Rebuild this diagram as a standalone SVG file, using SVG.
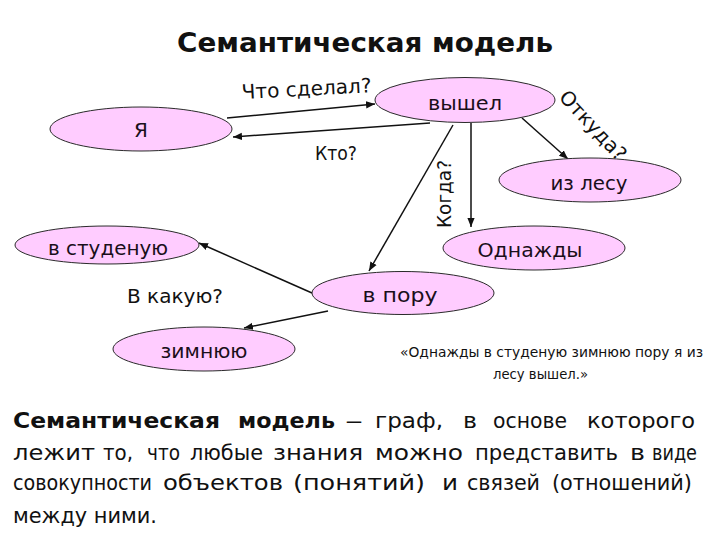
<svg xmlns="http://www.w3.org/2000/svg" width="720" height="540" viewBox="0 0 720 540">
<style>
  .node ellipse { fill: #FFCCFF; stroke: #2a2a2a; stroke-width: 1; }
  .node text { font-family: "DejaVu Sans", "Liberation Sans", sans-serif; font-size: 20px; fill: #1a0f1a; text-anchor: middle; }
  .lbl { font-family: "DejaVu Sans", "Liberation Sans", sans-serif; font-size: 20px; fill: #111; }
  .conn line { stroke: #111; stroke-width: 1.5; marker-end: url(#arr); }
  .para text { font-family: "DejaVu Sans Condensed", "DejaVu Sans", "Liberation Sans", sans-serif; font-size: 22px; fill: #111; }
  .para text.b { font-weight: bold; }
  .quote { font-family: "DejaVu Sans", "Liberation Sans", sans-serif; font-size: 14.5px; fill: #111; }
</style>
<defs>
  <marker id="arr" viewBox="0 0 10 10" refX="10" refY="5" markerWidth="6" markerHeight="6" orient="auto" markerUnits="strokeWidth">
    <path d="M0,1 L10,5 L0,9 Z" fill="#111"/>
  </marker>
</defs>
<rect width="720" height="540" fill="#fff"/>

<text x="365" y="52" font-family="DejaVu Sans, Liberation Sans, sans-serif" font-weight="bold" font-size="27" text-anchor="middle" textLength="376" lengthAdjust="spacingAndGlyphs" fill="#111">Семантическая модель</text>

<g id="connectors" class="conn">
  <line x1="227" y1="118" x2="375" y2="104"/>
  <line x1="430" y1="123" x2="233" y2="137"/>
  <line x1="522" y1="118" x2="568" y2="159"/>
  <line x1="471" y1="123" x2="471" y2="227"/>
  <line x1="453" y1="125" x2="369" y2="271"/>
  <line x1="312" y1="293" x2="199" y2="243"/>
  <line x1="328" y1="311" x2="244" y2="328"/>
</g>

<g id="edge-labels">
  <text class="lbl" x="242" y="99" transform="rotate(-3 242 99)" textLength="130" lengthAdjust="spacingAndGlyphs">Что сделал?</text>
  <text class="lbl" x="315" y="160" textLength="42" lengthAdjust="spacingAndGlyphs">Кто?</text>
  <text class="lbl" transform="translate(451 194) rotate(-90)" x="0" y="0" text-anchor="middle" textLength="68" lengthAdjust="spacingAndGlyphs">Когда?</text>
  <text class="lbl" transform="translate(558 98) rotate(47)" x="0" y="0" textLength="88" lengthAdjust="spacingAndGlyphs">Откуда?</text>
  <text class="lbl" x="127" y="303" textLength="96" lengthAdjust="spacingAndGlyphs">В какую?</text>
</g>

<g id="node-ya" class="node"><ellipse cx="141" cy="129" rx="91" ry="22"/><text x="141" y="137">Я</text></g>
<g id="node-vyshel" class="node"><ellipse cx="465" cy="100" rx="90" ry="22.5"/><text x="465" y="110" textLength="74" lengthAdjust="spacingAndGlyphs">вышел</text></g>
<g id="node-izlesu" class="node"><ellipse cx="590" cy="180" rx="91" ry="22"/><text x="589" y="190" textLength="77" lengthAdjust="spacingAndGlyphs">из лесу</text></g>
<g id="node-odnazhdy" class="node"><ellipse cx="534" cy="248" rx="91" ry="22"/><text x="530" y="257" textLength="105" lengthAdjust="spacingAndGlyphs">Однажды</text></g>
<g id="node-studenuyu" class="node"><ellipse cx="107" cy="245" rx="92" ry="19"/><text x="108" y="255" textLength="120" lengthAdjust="spacingAndGlyphs">в студеную</text></g>
<g id="node-vporu" class="node"><ellipse cx="403" cy="293" rx="91" ry="21.5"/><text x="400" y="302" textLength="75" lengthAdjust="spacingAndGlyphs">в пору</text></g>
<g id="node-zimnyuyu" class="node"><ellipse cx="204" cy="349" rx="91" ry="22"/><text x="204" y="358" textLength="87" lengthAdjust="spacingAndGlyphs">зимнюю</text></g>

<g id="quote" class="quote">
  <text x="400" y="357" textLength="303" lengthAdjust="spacingAndGlyphs">«Однажды в студеную зимнюю пору я из</text>
  <text x="493" y="379" textLength="95" lengthAdjust="spacingAndGlyphs">лесу вышел.»</text>
</g>

<g id="paragraph" class="para">
  <text class="b" x="13" y="428" textLength="207" lengthAdjust="spacingAndGlyphs">Семантическая</text>
  <text class="b" x="238" y="428" textLength="97" lengthAdjust="spacingAndGlyphs">модель</text>
  <text x="345" y="428" textLength="18" lengthAdjust="spacingAndGlyphs">–</text>
  <text x="375" y="428" textLength="68" lengthAdjust="spacingAndGlyphs">граф,</text>
  <text x="463" y="428" textLength="14" lengthAdjust="spacingAndGlyphs">в</text>
  <text x="493" y="428" textLength="74" lengthAdjust="spacingAndGlyphs">основе</text>
  <text x="587" y="428" textLength="108" lengthAdjust="spacingAndGlyphs">которого</text>

  <text x="13" y="460" textLength="82" lengthAdjust="spacingAndGlyphs">лежит</text>
  <text x="103" y="460" textLength="30" lengthAdjust="spacingAndGlyphs">то,</text>
  <text x="147" y="460" textLength="33" lengthAdjust="spacingAndGlyphs">что</text>
  <text x="190" y="460" textLength="73" lengthAdjust="spacingAndGlyphs">любые</text>
  <text x="273" y="460" textLength="90" lengthAdjust="spacingAndGlyphs">знания</text>
  <text x="375" y="460" textLength="88" lengthAdjust="spacingAndGlyphs">можно</text>
  <text x="475" y="460" textLength="143" lengthAdjust="spacingAndGlyphs">представить</text>
  <text x="630" y="460" textLength="15" lengthAdjust="spacingAndGlyphs">в</text>
  <text x="652" y="460" textLength="45" lengthAdjust="spacingAndGlyphs">виде</text>

  <text x="13" y="490" textLength="139" lengthAdjust="spacingAndGlyphs">совокупности</text>
  <text x="163" y="490" textLength="120" lengthAdjust="spacingAndGlyphs">объектов</text>
  <text x="293" y="490" textLength="132" lengthAdjust="spacingAndGlyphs">(понятий)</text>
  <text x="442" y="490" textLength="16" lengthAdjust="spacingAndGlyphs">и</text>
  <text x="467" y="490" textLength="73" lengthAdjust="spacingAndGlyphs">связей</text>
  <text x="552" y="490" textLength="140" lengthAdjust="spacingAndGlyphs">(отношений)</text>

  <text x="13" y="523" textLength="144" lengthAdjust="spacingAndGlyphs">между ними.</text>
</g>
</svg>
